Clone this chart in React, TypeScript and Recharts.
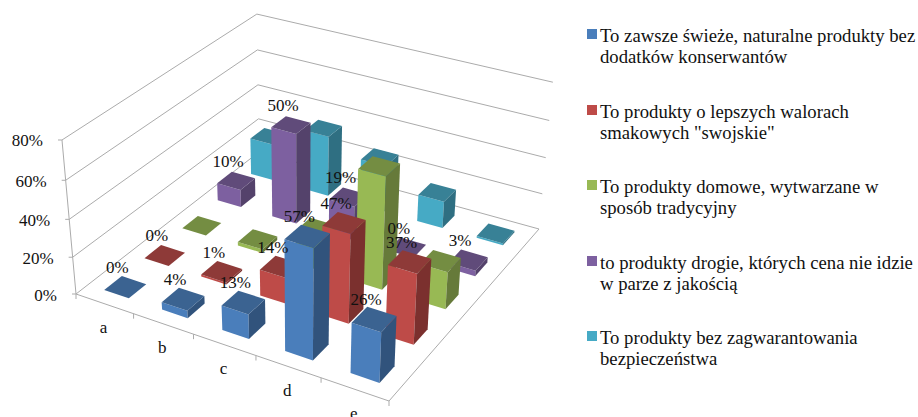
import { ScatterChart, Scatter, XAxis, YAxis } from "recharts";

const categories = ["a", "b", "c", "d", "e"];
const valueTicks = [0, 20, 40, 60, 80];

const seriesNames = [
  ["To zawsze świeże, naturalne produkty bez", "dodatków konserwantów"],
  ["To produkty o lepszych walorach", 'smakowych "swojskie"'],
  ["To produkty domowe, wytwarzane w", "sposób tradycyjny"],
  ["to produkty drogie, których cena nie idzie", "w parze z jakością"],
  ["To produkty bez zagwarantowania", "bezpieczeństwa"],
];

const fresh = [0, 4, 13, 57, 26];
const tasty = [0, 1, 14, 47, 37];
const homemade = [0, 2, 18, 60, 20];
const pricey = [10, 50, 19, 0, 3];
const unsafe = [21, 34, 26, 15, 1];

const seriesValues = [fresh, tasty, homemade, pricey, unsafe];
const labelled = [true, true, false, true, false];

// front, top, side
const faces = [
  ["#4A7EBB", "#3B6391", "#31537C"],
  ["#BE4B48", "#8E3A38", "#7B302E"],
  ["#98B954", "#748D42", "#667A3A"],
  ["#7D60A0", "#604B7A", "#54426B"],
  ["#46AAC5", "#388196", "#2F6F82"],
];

const W = 580;
const H = 417;
const AXIS_MAX = 80;
const GRID = "#ABABAB";
const SERIF = "'Liberation Serif', 'Times New Roman', serif";

// floor corners and the point the verticals converge to
const A = [76, 294];
const B = [389, 401];
const C = [539, 229];
const D = [259, 152];
const VANISH = [300, 2757];
const WALL_W = -0.05885;
const HALF_BAR = 0.043;

const dx1 = B[0] - C[0];
const dy1 = B[1] - C[1];
const dx2 = D[0] - C[0];
const dy2 = D[1] - C[1];
const sx = A[0] - B[0] + C[0] - D[0];
const sy = A[1] - B[1] + C[1] - D[1];
const det = dx1 * dy2 - dx2 * dy1;
const g = (sx * dy2 - dx2 * sy) / det;
const h = (dx1 * sy - sx * dy1) / det;

// u runs along the categories, v along the series, value is the height
const project = (u: number, v: number, value = 0) => {
  const t = (value / AXIS_MAX) * WALL_W;
  const w = g * u + h * v + 1 + t;
  const x = (B[0] - A[0] + g * B[0]) * u + (D[0] - A[0] + h * D[0]) * v + A[0] + t * VANISH[0];
  const y = (B[1] - A[1] + g * B[1]) * u + (D[1] - A[1] + h * D[1]) * v + A[1] + t * VANISH[1];
  return { x: x / w, y: y / w };
};

const catPos = (i: number) => (i + 0.5) / categories.length;
const serPos = (s: number) => (s + 0.5) / seriesNames.length;

const Box3D = ({ cx, cy, payload, colors }: any) => {
  const { u, v, value } = payload;
  const base = project(u, v);
  const pt = (pu: number, pv: number, val: number) => {
    const p = project(pu, pv, val);
    return `${cx + p.x - base.x},${cy + p.y - base.y}`;
  };
  const u0 = u - HALF_BAR;
  const u1 = u + HALF_BAR;
  const v0 = v - HALF_BAR;
  const v1 = v + HALF_BAR;
  return (
    <g>
      <polygon fill={colors[0]} points={[pt(u0, v0, 0), pt(u1, v0, 0), pt(u1, v0, value), pt(u0, v0, value)].join(" ")} />
      <polygon fill={colors[2]} points={[pt(u1, v0, 0), pt(u1, v1, 0), pt(u1, v1, value), pt(u1, v0, value)].join(" ")} />
      <polygon fill={colors[1]} points={[pt(u0, v0, value), pt(u1, v0, value), pt(u1, v1, value), pt(u0, v1, value)].join(" ")} />
    </g>
  );
};

const TextMark = ({ cx, cy, payload }: any) => (
  <text x={cx} y={cy} textAnchor={payload.anchor ?? "middle"} dominantBaseline="central" fontFamily={SERIF} fontSize={17} fill="#111">
    {payload.text}
  </text>
);

const gridLines = [
  ...valueTicks.map((t) => [project(0, 0, t), project(0, 1, t), project(1, 1, t)]),
  [project(0, 0), project(0, 0, AXIS_MAX)],
  [project(0, 0), project(1, 0), project(1, 1)],
  ...valueTicks.map((t) => {
    const p = project(0, 0, t);
    return [{ x: p.x - 4, y: p.y }, p];
  }),
  ...[0, 1, 2, 3, 4, 5].map((i) => {
    const p = project(i / 5, 0);
    return [p, { x: p.x, y: p.y + 5 }];
  }),
];

const axisText = [
  ...valueTicks.map((t) => {
    const p = project(0, 0, t);
    return { x: p.x - 19, y: p.y + 1, text: `${t}%`, anchor: "end" };
  }),
  ...categories.map((c, i) => {
    const p = project(catPos(i), 0);
    return { x: p.x - 1, y: p.y + 24, text: c, anchor: "middle" };
  }),
];

const valueText = seriesValues.flatMap((vals, s) =>
  labelled[s]
    ? vals.map((val, i) => {
        const p = project(catPos(i), serPos(s), val);
        return { x: p.x - 8, y: p.y - 19.5, text: `${val}%` };
      })
    : []
);

const barRows = (s: number) =>
  categories.map((_, i) => {
    const u = catPos(i);
    const v = serPos(s);
    const p = project(u, v);
    return { x: p.x, y: p.y, u, v, value: seriesValues[s][i] };
  });

const ChartLegend = () => (
  <div style={{ position: "absolute", left: 587, top: 25, fontFamily: SERIF, fontSize: 18.7, lineHeight: "21px", color: "#111" }}>
    {seriesNames.map((lines, s) => (
      <div key={s} style={{ position: "relative", height: 75.6, paddingLeft: 13, whiteSpace: "nowrap" }}>
        <span style={{ position: "absolute", left: 0, top: 4, width: 10, height: 10, background: faces[s][0] }} />
        {lines.map((l) => (
          <div key={l}>{l}</div>
        ))}
      </div>
    ))}
  </div>
);

export default function App() {
  return (
    <div style={{ position: "absolute", left: 0, top: 0, width: 918, height: H, overflow: "hidden", background: "#fff" }}>
      <ScatterChart width={W} height={H} margin={{ top: 0, right: 0, bottom: 0, left: 0 }}>
        <XAxis type="number" dataKey="x" domain={[0, W]} hide />
        <YAxis type="number" dataKey="y" domain={[0, H]} reversed hide />
        {gridLines.map((pts, i) => (
          <Scatter key={i} data={pts} line={{ stroke: GRID, strokeWidth: 1 }} shape={() => null} isAnimationActive={false} />
        ))}
        {[4, 3, 2, 1, 0].map((s) => (
          <Scatter
            key={s}
            data={barRows(s)}
            shape={(props: any) => <Box3D {...props} colors={faces[s]} />}
            isAnimationActive={false}
          />
        ))}
        <Scatter data={axisText} shape={TextMark} isAnimationActive={false} />
        <Scatter data={valueText} shape={TextMark} isAnimationActive={false} />
      </ScatterChart>
      <ChartLegend />
    </div>
  );
}
